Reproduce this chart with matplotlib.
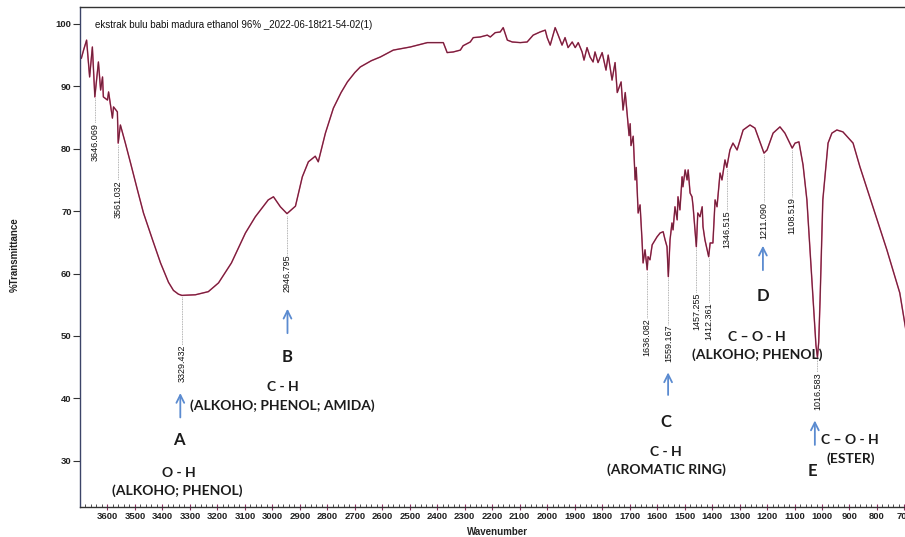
import numpy as np
import matplotlib
matplotlib.use("Agg")
import matplotlib.pyplot as plt

# FTIR spectrum, traced wavenumber (cm-1) / %T pairs
wavenumber = [
    3695, 3687, 3676, 3665, 3655, 3646, 3633, 3625, 3618, 3615, 3600, 3596, 3582, 3578,
    3564, 3561, 3553, 3535, 3516, 3491, 3469, 3436, 3407, 3378, 3360, 3342, 3329.4, 3280,
    3233, 3196, 3149, 3098, 3062, 3015, 2996, 2971, 2946.8, 2916, 2891, 2869, 2844, 2833,
    2807, 2778, 2750, 2727, 2700, 2680, 2640, 2607, 2560, 2498, 2436, 2389, 2378, 2364,
    2342, 2316, 2306, 2280, 2269, 2244, 2218, 2207, 2189, 2171, 2160, 2145, 2127, 2098,
    2073, 2051, 2026, 2007, 2000, 1989, 1971, 1960, 1946, 1935, 1924, 1909, 1898, 1887,
    1873, 1866, 1855, 1844, 1833, 1826, 1815, 1800, 1786, 1778, 1764, 1753, 1745, 1731,
    1724, 1716, 1702, 1698, 1695, 1687, 1680, 1676, 1669, 1662, 1655, 1651, 1644, 1636.1,
    1633, 1626, 1618, 1600, 1589, 1578, 1571, 1564, 1559.2, 1553, 1546, 1542, 1535, 1527,
    1524, 1517, 1509, 1506, 1498, 1491, 1487, 1480, 1473, 1469, 1457.3, 1452, 1444, 1436,
    1433, 1426, 1412.4, 1407, 1397, 1389, 1382, 1371, 1364, 1353, 1346.5, 1335, 1324, 1309,
    1287, 1262, 1244, 1211.1, 1200, 1178, 1153, 1135, 1108.5, 1098, 1084, 1069, 1055, 1037,
    1022, 1016.6, 1012, 1007, 997, 978, 964, 946, 924, 887, 862, 815, 764, 717, 695,
]
transmittance = [
    94.5, 95.8, 97.4, 91.5, 96.3, 88.3, 93.9, 89.4, 91.5, 88.3, 87.8, 89.1, 84.9, 86.7,
    85.9, 80.9, 83.8, 80.9, 77.7, 73.4, 69.7, 65.4, 61.7, 58.6, 57.3, 56.7, 56.5, 56.6,
    57.1, 58.5, 61.7, 66.5, 69.1, 71.8, 72.3, 70.7, 69.6, 70.8, 75.5, 77.9, 78.8, 77.9,
    82.5, 86.5, 89.0, 90.7, 92.2, 93.1, 94.1, 94.7, 95.8, 96.3, 97.0, 97.0, 97.0, 95.4,
    95.5, 95.8, 96.5, 97.1, 97.8, 97.9, 98.2, 97.9, 98.6, 98.7, 99.4, 97.4, 97.1, 97.0,
    97.1, 98.2, 98.7, 99.0, 97.8, 96.6, 99.4, 98.2, 96.6, 97.8, 96.2, 97.1, 96.2, 97.0,
    95.5, 94.2, 96.2, 94.7, 93.9, 95.5, 93.8, 95.4, 92.6, 95.0, 91.0, 93.8, 89.0, 90.7,
    86.2, 89.0, 82.1, 84.0, 80.5, 82.0, 75.0, 77.0, 69.7, 71.0, 65.4, 61.7, 63.8, 60.6,
    62.7, 62.2, 64.6, 65.9, 66.5, 66.7, 65.4, 64.3, 59.5, 65.4, 68.1, 67.0, 70.7, 68.6,
    72.3, 70.2, 75.5, 73.9, 76.6, 75.0, 76.6, 72.9, 72.3, 70.7, 64.3, 69.7, 69.1, 70.7,
    67.5, 65.4, 62.7, 64.9, 64.9, 71.8, 70.7, 76.1, 75.0, 78.2, 77.0, 79.8, 80.9, 79.8,
    83.0, 83.8, 83.3, 79.3, 79.8, 82.5, 83.5, 82.5, 80.1, 80.9, 81.1, 77.4, 71.8, 59.0,
    48.5, 46.6, 49.0, 55.8, 71.8, 80.9, 82.5, 83.0, 82.7, 80.9, 77.1, 70.7, 63.8, 56.9, 51.0,
]

# picked peaks and where their labels start (top of the rotated text, %T)
peak_wn = [3646.069, 3561.032, 3329.432, 2946.795, 1636.082, 1559.167,
           1457.255, 1412.361, 1346.515, 1211.090, 1108.519, 1016.583]
peak_label_top = [84.1, 75.0, 48.6, 63.0, 52.9, 51.8, 56.9, 55.4, 70.2, 71.5, 72.3, 44.2]

# functional group notes
groups = [
    # letter, (x, y) letter, line1, (x, y), line2, (x, y), arrow x, arrow tail y, arrow head y
    ("A", (3342, 33.3), "O - H", (3342, 28.0), "(ALKOHO; PHENOL)", (3345, 25.2), 3335, 36.5, 41.3),
    ("B", (2945, 46.6), "C - H", (2960, 41.8), "(ALKOHO; PHENOL; AMIDA)", (2964, 38.9), 2945, 50.0, 54.8),
    ("C", (1567, 36.2), "C - H", (1567, 31.4), "(AROMATIC RING)", (1567, 28.5), 1560, 40.1, 44.6),
    ("D", (1215, 56.4), "C \u2013 O - H", (1237, 49.8), "(ALKOHO; PHENOL)", (1237, 47.0), 1215, 60.1, 64.9),
    ("E", (1033, 28.4), "C \u2013 O - H", (898, 33.3), "(ESTER)", (895, 30.3), 1026, 32.1, 36.9),
]

wn = np.array(wavenumber)
tr = np.array(transmittance)

fig = plt.figure(figsize=(9.05, 5.37), dpi=100)
ax = fig.add_axes([0.0884, 0.0559, 0.9116, 0.931])

ax.plot(wn, tr, color="#d6336b", lw=1.1, alpha=0.8, solid_joinstyle="round")
ax.plot(wn, tr, color="#6e2139", lw=0.8)

# peak labels with dotted leaders
for p, top in zip(peak_wn, peak_label_top):
    yp = np.interp(p, wn[::-1], tr[::-1])
    ax.plot([p, p], [yp - 0.3, top], color="#9a9a9a", lw=0.6, ls=(0, (1, 1)))
    ax.text(p, top, f"{p:.3f}", rotation=90, ha="center", va="top",
            fontsize=6.5, family="Liberation Sans", color="#111111")

ax.text(3644, 99.8, "ekstrak bulu babi madura ethanol 96% _2022-06-18t21-54-02(1)",
        ha="left", va="center", fontsize=7, family="Liberation Sans", color="#111111")

note_font = dict(family="Lato", weight="bold", color="#1c1c1c")
for letter, lpos, l1, p1, l2, p2, axx, ay0, ay1 in groups:
    ax.text(*lpos, letter, ha="center", va="center", fontsize=12, **note_font)
    ax.text(*p1, l1, ha="center", va="center", fontsize=10, **note_font)
    ax.text(*p2, l2, ha="center", va="center", fontsize=10, **note_font)
    ax.annotate("", xy=(axx, ay1), xytext=(axx, ay0),
                arrowprops=dict(arrowstyle="->", color="#5b8bd0", lw=1.3,
                                mutation_scale=14))

ax.set_xlim(3700, 698)
ax.set_ylim(22.6, 102.7)

ax.set_xticks(np.arange(3600, 699, -100))
ax.set_xticks(np.arange(3700, 699, -20), minor=True)
ax.set_yticks(np.arange(30, 101, 10))
ax.tick_params(axis="x", which="major", direction="inout", length=5, width=0.8,
               color="#8a3060", pad=1)
ax.tick_params(axis="x", which="minor", direction="in", length=2.5, width=0.6,
               color="#333333")
ax.tick_params(axis="y", which="major", direction="out", length=5, width=0.8,
               color="#333333", pad=1)
for lab in ax.get_xticklabels() + ax.get_yticklabels():
    lab.set_fontfamily("Liberation Sans")
    lab.set_fontweight("bold")
    lab.set_fontsize(6.8)
    lab.set_color("#222222")

ax.spines["right"].set_visible(False)
ax.spines["top"].set_color("#333333")
ax.spines["bottom"].set_color("#333333")
ax.spines["left"].set_color("#3c4468")
for s in ("top", "bottom", "left"):
    ax.spines[s].set_linewidth(1.0)

fig.text(15 / 905, 1 - 255 / 537, "%Transmittance", rotation=90, ha="center", va="center",
         fontsize=7, family="Liberation Sans", weight="bold", color="#222222")
fig.text(497 / 905, 1 - 532 / 537, "Wavenumber", ha="center", va="center",
         fontsize=7, family="Liberation Sans", weight="bold", color="#222222")

fig.savefig("out.png", dpi=100)
